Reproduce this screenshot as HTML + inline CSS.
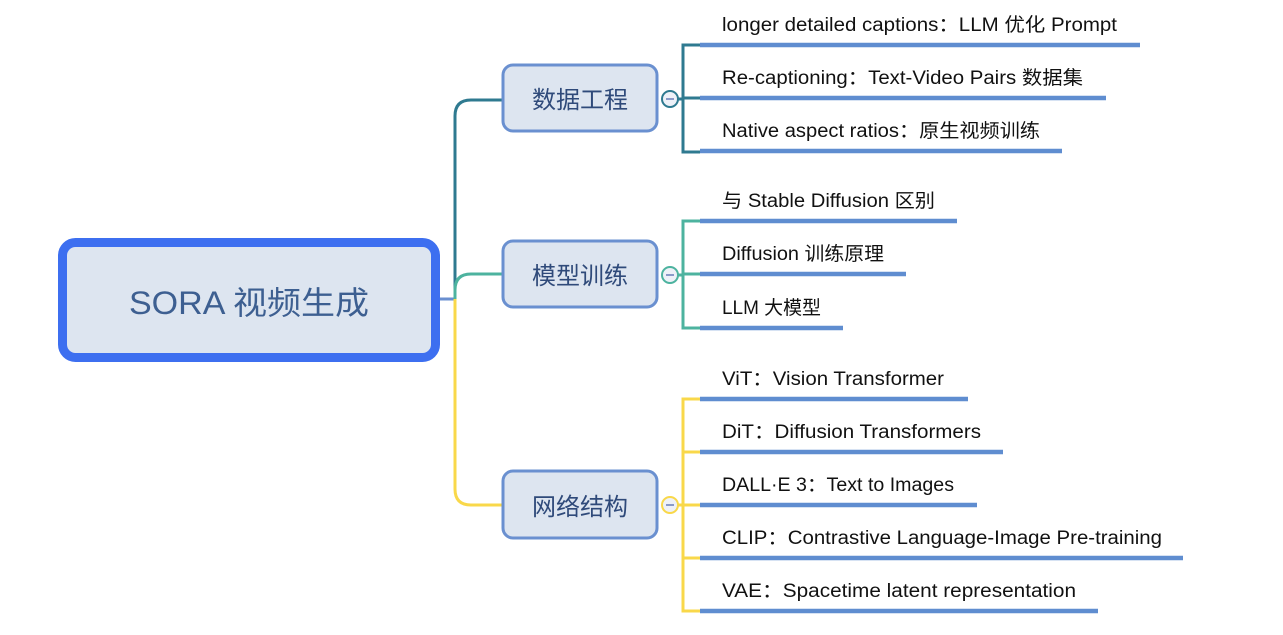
<!DOCTYPE html>
<html><head><meta charset="utf-8"><style>
html,body{margin:0;padding:0;background:#fff;}
svg{display:block;}
text{font-family:"Liberation Sans","Noto Sans CJK SC",sans-serif;}
</style></head><body>
<svg width="1283" height="635" viewBox="0 0 1283 635" xmlns="http://www.w3.org/2000/svg">
<!-- root -->
<rect x="62.5" y="242.5" width="373" height="115" rx="13" fill="#dde5f0" stroke="#3d6ff0" stroke-width="9"/>
<text x="249" y="314" font-size="32" fill="#3d5f91" text-anchor="middle" textLength="240" lengthAdjust="spacingAndGlyphs">SORA 视频生成</text>
<!-- trunk connectors -->
<line x1="440" y1="299" x2="455" y2="299" stroke="#6a8fd0" stroke-width="3"/>
<path d="M455 299 V116 Q455 100 471 100 H502" fill="none" stroke="#2f7a90" stroke-width="3"/>
<path d="M455 299 V290 Q455 274 471 274 H502" fill="none" stroke="#4db39f" stroke-width="3"/>
<path d="M455 299 V489 Q455 505 471 505 H502" fill="none" stroke="#f9d84a" stroke-width="3"/>
<!-- branch nodes -->
<rect x="503" y="65" width="154" height="66" rx="10" fill="#dde5f0" stroke="#6a90d0" stroke-width="3"/>
<text x="580" y="108" font-size="24" fill="#2f4a7a" text-anchor="middle">数据工程</text>
<rect x="503" y="241" width="154" height="66" rx="10" fill="#dde5f0" stroke="#6a90d0" stroke-width="3"/>
<text x="580" y="284" font-size="24" fill="#2f4a7a" text-anchor="middle">模型训练</text>
<rect x="503" y="471" width="154" height="67" rx="10" fill="#dde5f0" stroke="#6a90d0" stroke-width="3"/>
<text x="580" y="515" font-size="24" fill="#2f4a7a" text-anchor="middle">网络结构</text>
<!-- brackets -->
<g fill="none" stroke-width="3">
<path d="M678 99 H683 M700 45 H683 V152 H700 M683 98 H700" stroke="#2f7a90"/>
<path d="M678 275 H683 M700 221 H683 V328 H700 M683 274 H700" stroke="#4db39f"/>
<path d="M678 505 H683 M700 399 H683 V611 H700 M683 452 H700 M683 505 H700 M683 558 H700" stroke="#f9d84a"/>
</g>
<!-- collapse circles -->
<g stroke-width="2" fill="#eef1f8">
<circle cx="670" cy="99" r="8" stroke="#2f7a90"/>
<circle cx="670" cy="275" r="8" stroke="#4db39f"/>
<circle cx="670" cy="505" r="8" stroke="#f9d84a"/>
</g>
<g stroke="#8a9ac8" stroke-width="2">
<line x1="666" y1="99" x2="674" y2="99"/><line x1="666" y1="275" x2="674" y2="275"/><line x1="666" y1="505" x2="674" y2="505"/>
</g>
<!-- underlines -->
<g stroke="#5f8dd0" stroke-width="4.5">
<line x1="700" y1="45" x2="1140" y2="45"/>
<line x1="700" y1="98" x2="1106" y2="98"/>
<line x1="700" y1="151" x2="1062" y2="151"/>
<line x1="700" y1="221" x2="957" y2="221"/>
<line x1="700" y1="274" x2="906" y2="274"/>
<line x1="700" y1="328" x2="843" y2="328"/>
<line x1="700" y1="399" x2="968" y2="399"/>
<line x1="700" y1="452" x2="1003" y2="452"/>
<line x1="700" y1="505" x2="977" y2="505"/>
<line x1="700" y1="558" x2="1183" y2="558"/>
<line x1="700" y1="611" x2="1098" y2="611"/>
</g>
<!-- item labels -->
<g font-size="19" fill="#111" lengthAdjust="spacingAndGlyphs">
<text x="722" y="31" textLength="395" lengthAdjust="spacingAndGlyphs">longer detailed captions：LLM 优化 Prompt</text>
<text x="722" y="84" textLength="361" lengthAdjust="spacingAndGlyphs">Re-captioning：Text-Video Pairs 数据集</text>
<text x="722" y="137" textLength="318" lengthAdjust="spacingAndGlyphs">Native aspect ratios：原生视频训练</text>
<text x="722" y="207" textLength="213" lengthAdjust="spacingAndGlyphs">与 Stable Diffusion 区别</text>
<text x="722" y="260" textLength="162" lengthAdjust="spacingAndGlyphs">Diffusion 训练原理</text>
<text x="722" y="314" textLength="99" lengthAdjust="spacingAndGlyphs">LLM 大模型</text>
<text x="722" y="385" textLength="222" lengthAdjust="spacingAndGlyphs">ViT：Vision Transformer</text>
<text x="722" y="438" textLength="259" lengthAdjust="spacingAndGlyphs">DiT：Diffusion Transformers</text>
<text x="722" y="491" textLength="232" lengthAdjust="spacingAndGlyphs">DALL·E 3：Text to Images</text>
<text x="722" y="544" textLength="440" lengthAdjust="spacingAndGlyphs">CLIP：Contrastive Language-Image Pre-training</text>
<text x="722" y="597" textLength="354" lengthAdjust="spacingAndGlyphs">VAE：Spacetime latent representation</text>
</g>
</svg>
</body></html>
